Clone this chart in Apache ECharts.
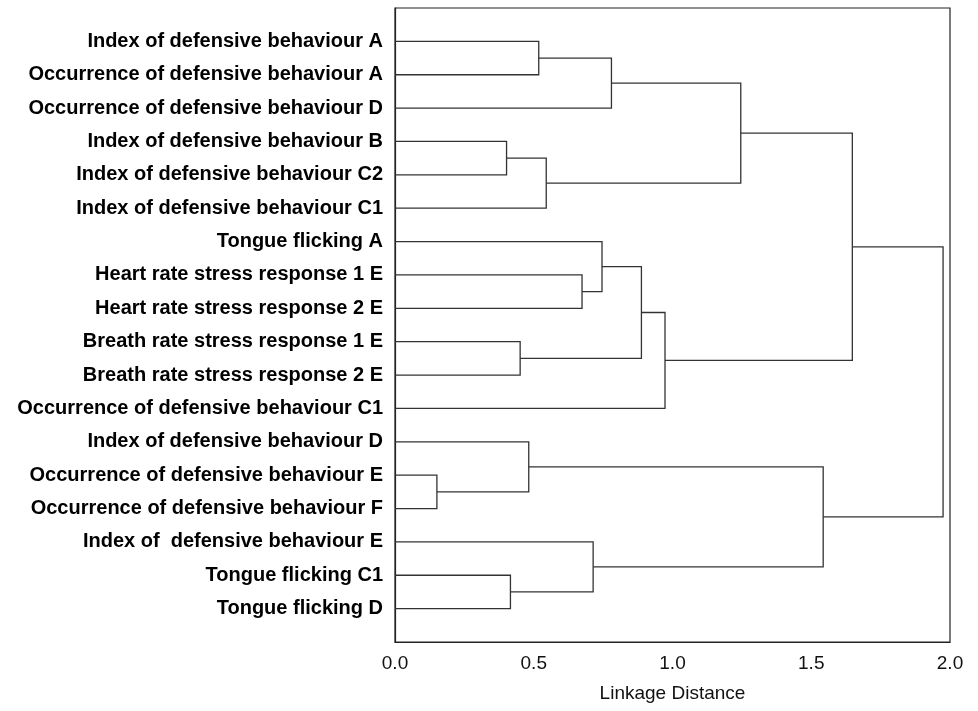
<!DOCTYPE html>
<html>
<head>
    <meta charset="utf-8">
    <title>Dendrogram</title>
    <script src="https://cdn.jsdelivr.net/npm/echarts@6/dist/echarts.min.js"></script>
    <style>
        html, body { margin: 0; padding: 0; background: #fff; }
        #main { width: 978px; height: 711px; }
    </style>
</head>
<body>
<div id="main"></div>
<script type="text/javascript">
    // leaves, top to bottom
    var leaves = [
        'Index of defensive behaviour A',
        'Occurrence of defensive behaviour A',
        'Occurrence of defensive behaviour D',
        'Index of defensive behaviour B',
        'Index of defensive behaviour C2',
        'Index of defensive behaviour C1',
        'Tongue flicking A',
        'Heart rate stress response 1 E',
        'Heart rate stress response 2 E',
        'Breath rate stress response 1 E',
        'Breath rate stress response 2 E',
        'Occurrence of defensive behaviour C1',
        'Index of defensive behaviour D',
        'Occurrence of defensive behaviour E',
        'Occurrence of defensive behaviour F',
        'Index of  defensive behaviour E',
        'Tongue flicking C1',
        'Tongue flicking D'
    ];
    // merges: node ids 0..17 are leaves, merge k creates node 18+k
    var mergeLeft   = [0, 18, 3, 20, 19, 7, 6, 9, 24, 26, 22, 13, 12, 16, 15, 30, 28];
    var mergeRight  = [1, 2, 4, 5, 21, 8, 23, 10, 25, 11, 27, 14, 29, 17, 31, 32, 33];
    var mergeHeight = [0.518, 0.780, 0.402, 0.545, 1.246, 0.674, 0.746, 0.451, 0.888, 0.973,
                       1.648, 0.151, 0.482, 0.416, 0.714, 1.543, 1.975];

    // position of each node: x = linkage distance, y = leaf slot
    var nodeX = [], nodeY = [];
    for (var i = 0; i < leaves.length; i++) { nodeX.push(0); nodeY.push(i); }
    var links = [];
    for (var k = 0; k < mergeHeight.length; k++) {
        var a = mergeLeft[k], b = mergeRight[k], h = mergeHeight[k];
        links.push([nodeX[a], nodeY[a], nodeX[b], nodeY[b], h]);
        nodeX.push(h);
        nodeY.push((nodeY[a] + nodeY[b]) / 2);
    }

    var myChart = echarts.init(document.getElementById('main'));
    var option = {
        animation: false,
        grid: {
            left: 395, right: 28, top: 8, bottom: 69,
            show: true, borderColor: '#222', borderWidth: 1.2
        },
        xAxis: {
            type: 'value', min: 0, max: 2, interval: 0.5,
            name: 'Linkage Distance', nameLocation: 'middle', nameGap: 42,
            nameTextStyle: { fontFamily: 'Liberation Sans', fontSize: 19, color: '#111' },
            axisLine: { show: true, onZero: false, lineStyle: { color: '#222', width: 1.2 } },
            axisTick: { show: false },
            splitLine: { show: false },
            axisLabel: {
                fontFamily: 'Liberation Sans', fontSize: 19, color: '#111', margin: 12,
                formatter: function (v) { return v.toFixed(1); }
            }
        },
        yAxis: {
            type: 'value', min: -1, max: 18, interval: 1, inverse: true,
            axisLine: { show: true, onZero: false, lineStyle: { color: '#222', width: 1.2 } },
            axisTick: { show: false },
            splitLine: { show: false },
            axisLabel: {
                fontFamily: 'Liberation Sans', fontWeight: 'bold', fontSize: 20,
                color: '#000', margin: 12,
                formatter: function (v) { return leaves[v] || ''; }
            }
        },
        series: [{
            type: 'custom',
            renderItem: function (params, api) {
                var p1 = api.coord([api.value(0), api.value(1)]);
                var p2 = api.coord([api.value(2), api.value(3)]);
                var h1 = api.coord([api.value(4), api.value(1)]);
                var h2 = api.coord([api.value(4), api.value(3)]);
                return {
                    type: 'polyline',
                    shape: { points: [p1, h1, h2, p2] },
                    style: { stroke: '#333', lineWidth: 1.3, fill: null }
                };
            },
            data: links
        }]
    };
    myChart.setOption(option);
</script>
</body>
</html>
